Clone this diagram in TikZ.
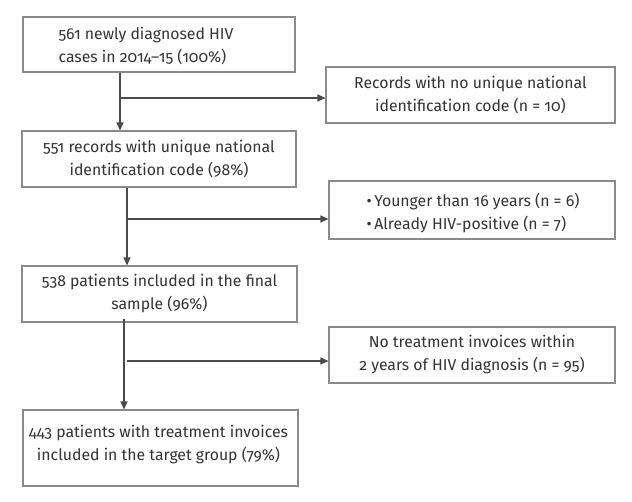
\documentclass[tikz,border=0pt]{standalone}
\usepackage{fontspec}
\setmainfont{Fira Sans}[Numbers=OldStyle]
\usetikzlibrary{arrows.meta}
\definecolor{boxc}{HTML}{8A8A8A}
\definecolor{linec}{HTML}{4A4A4A}
\definecolor{txtc}{HTML}{333333}
\begin{document}
\begin{tikzpicture}[x=1pt,y=-1pt,
  txt/.style={text=txtc,font=\fontsize{15.8}{23}\selectfont,inner sep=0pt},
  box/.style={draw=boxc,line width=1.1pt,rectangle,inner sep=0pt,txt,align=center},
  arr/.style={draw=linec,line width=1.3pt,-{Triangle[length=8pt,width=7pt]}}]
\useasboundingbox (0,0) rectangle (632,502);
\node[box,minimum width=272pt,minimum height=55pt] (b1) at (159,44.5) {};
\node[txt,align=left] (t1) at (146,46) {561 newly diagnosed HIV\\cases in 2014–15 (100\%)};
\node[box,minimum width=274pt,minimum height=56pt] (b2) at (159,159) {551 records with unique national\\identification code (98\%)};
\node[box,minimum width=275pt,minimum height=56pt] (b3) at (159.5,294) {538 patients included in the final\\sample (96\%)};
\node[box,minimum width=275pt,minimum height=76pt] (b4) at (160.5,448) {};
\node[txt,align=center] (t4) at (158.5,445) {443 patients with treatment invoices\\included in the target group (79\%)};
\node[box,minimum width=289pt,minimum height=56pt] (r1) at (470.5,95) {Records with no unique national\\identification code (n = 10)};
\node[box,minimum width=286pt,minimum height=58pt] (r2) at (472,210) {};
\node[txt,align=left] (t2) at (473,213) {•\,Younger than 16 years (n = 6)\\•\,Already HIV-positive (n = 7)};
\node[box,minimum width=286pt,minimum height=56pt] (r3) at (472,355) {No treatment invoices within\\2 years of HIV diagnosis (n = 95)};
\coordinate (v1) at (120,98);
\coordinate (v2) at (127,219);
\coordinate (v3) at (124,361);
\draw[arr] (b1.south -| v1) -- (b2.north -| v1);
\draw[arr] (v1) -- (v1 -| r1.west);
\draw[arr] (b2.south -| v2) -- (b3.north -| v2);
\draw[arr] (v2) -- (v2 -| r2.west);
\coordinate (s3) at ([yshift=4pt]b3.south -| v3);
\draw[arr] (s3) -- (b4.north -| v3);
\draw[arr] ([xshift=3pt]v3) -- (v3 -| r3.west);
\end{tikzpicture}
\end{document}
